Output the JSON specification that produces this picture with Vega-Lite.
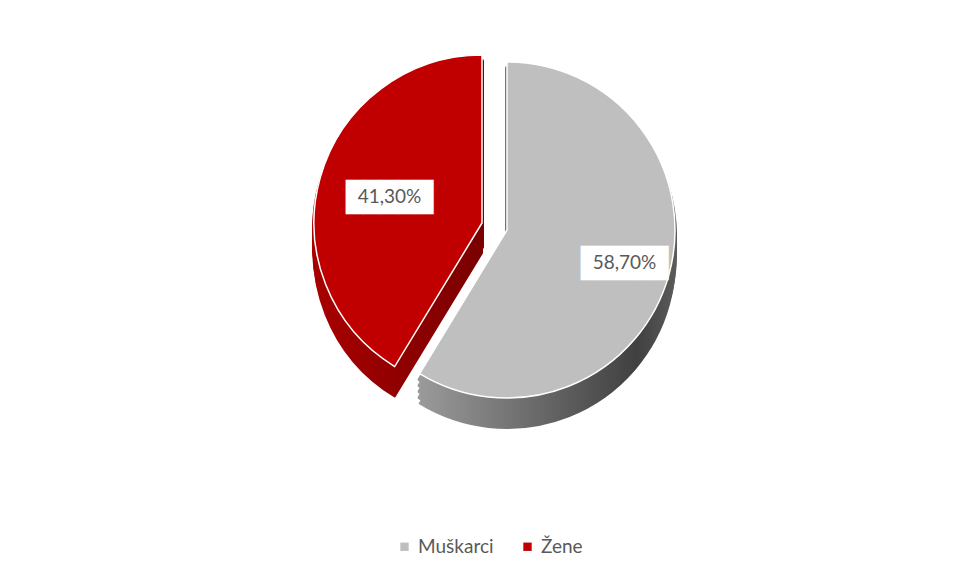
{
  "$schema": "https://vega.github.io/schema/vega-lite/v6.json",
  "width": 1014,
  "height": 460,
  "padding": 0,
  "background": "white",
  "config": {"view": {"stroke": null}, "font": "Lato"},
  "data": {"values": [
    {"spol": "Muškarci", "value": 58.7, "label": "58,70%", "order": 1},
    {"spol": "Žene", "value": 41.3, "label": "41,30%", "order": 2}
  ]},
  "transform": [
    {"stack": "value", "groupby": [], "sort": [{"field": "order", "order": "ascending"}], "as": ["v0", "v1"]}
  ],
  "encoding": {"theta": {"field": "v0", "type": "quantitative", "scale": {"domain": [0, 100]}}, "theta2": {"field": "v1"}},
  "layer": [
    {"transform": [{"filter": "datum.spol === 'Muškarci'"}],
     "mark": {"type": "arc", "radius": 168, "yOffset": 6, "strokeWidth": 4, "strokeJoin": "round", "stroke": {"gradient": "linear", "x1": 0, "x2": 1, "y1": 0, "y2": 0, "stops": [{"offset": 0, "color": "#9a9a9a"}, {"offset": 0.85, "color": "#404040"}, {"offset": 1, "color": "#5a5a5a"}]}, "fill": {"gradient": "linear", "x1": 0, "x2": 1, "y1": 0, "y2": 0, "stops": [{"offset": 0, "color": "#9a9a9a"}, {"offset": 0.85, "color": "#404040"}, {"offset": 1, "color": "#5a5a5a"}]}}},
    {"transform": [{"filter": "datum.spol === 'Muškarci'"}],
     "mark": {"type": "arc", "radius": 168, "yOffset": 12, "strokeWidth": 4, "strokeJoin": "round", "stroke": {"gradient": "linear", "x1": 0, "x2": 1, "y1": 0, "y2": 0, "stops": [{"offset": 0, "color": "#9a9a9a"}, {"offset": 0.85, "color": "#404040"}, {"offset": 1, "color": "#5a5a5a"}]}, "fill": {"gradient": "linear", "x1": 0, "x2": 1, "y1": 0, "y2": 0, "stops": [{"offset": 0, "color": "#9a9a9a"}, {"offset": 0.85, "color": "#404040"}, {"offset": 1, "color": "#5a5a5a"}]}}},
    {"transform": [{"filter": "datum.spol === 'Muškarci'"}],
     "mark": {"type": "arc", "radius": 168, "yOffset": 18, "strokeWidth": 4, "strokeJoin": "round", "stroke": {"gradient": "linear", "x1": 0, "x2": 1, "y1": 0, "y2": 0, "stops": [{"offset": 0, "color": "#9a9a9a"}, {"offset": 0.85, "color": "#404040"}, {"offset": 1, "color": "#5a5a5a"}]}, "fill": {"gradient": "linear", "x1": 0, "x2": 1, "y1": 0, "y2": 0, "stops": [{"offset": 0, "color": "#9a9a9a"}, {"offset": 0.85, "color": "#404040"}, {"offset": 1, "color": "#5a5a5a"}]}}},
    {"transform": [{"filter": "datum.spol === 'Muškarci'"}],
     "mark": {"type": "arc", "radius": 168, "yOffset": 24, "strokeWidth": 4, "strokeJoin": "round", "stroke": {"gradient": "linear", "x1": 0, "x2": 1, "y1": 0, "y2": 0, "stops": [{"offset": 0, "color": "#9a9a9a"}, {"offset": 0.85, "color": "#404040"}, {"offset": 1, "color": "#5a5a5a"}]}, "fill": {"gradient": "linear", "x1": 0, "x2": 1, "y1": 0, "y2": 0, "stops": [{"offset": 0, "color": "#9a9a9a"}, {"offset": 0.85, "color": "#404040"}, {"offset": 1, "color": "#5a5a5a"}]}}},
    {"transform": [{"filter": "datum.spol === 'Muškarci'"}],
     "mark": {"type": "arc", "radius": 168, "yOffset": 30, "strokeWidth": 2, "strokeJoin": "round", "stroke": {"gradient": "linear", "x1": 0, "x2": 1, "y1": 0, "y2": 0, "stops": [{"offset": 0, "color": "#9a9a9a"}, {"offset": 0.85, "color": "#404040"}, {"offset": 1, "color": "#5a5a5a"}]}, "fill": {"gradient": "linear", "x1": 0, "x2": 1, "y1": 0, "y2": 0, "stops": [{"offset": 0, "color": "#9a9a9a"}, {"offset": 0.85, "color": "#404040"}, {"offset": 1, "color": "#5a5a5a"}]}}},
    {"transform": [{"filter": "datum.spol === 'Žene'"}],
     "mark": {"type": "arc", "radius": 168, "xOffset": -25, "yOffset": -1, "strokeWidth": 4, "strokeJoin": "round", "stroke": {"gradient": "linear", "x1": 0, "x2": 1, "y1": 0, "y2": 0, "stops": [{"offset": 0, "color": "#a80000"}, {"offset": 1, "color": "#7a0000"}]}, "fill": {"gradient": "linear", "x1": 0, "x2": 1, "y1": 0, "y2": 0, "stops": [{"offset": 0, "color": "#a80000"}, {"offset": 1, "color": "#7a0000"}]}}},
    {"transform": [{"filter": "datum.spol === 'Žene'"}],
     "mark": {"type": "arc", "radius": 168, "xOffset": -25, "yOffset": 5, "strokeWidth": 4, "strokeJoin": "round", "stroke": {"gradient": "linear", "x1": 0, "x2": 1, "y1": 0, "y2": 0, "stops": [{"offset": 0, "color": "#a80000"}, {"offset": 1, "color": "#7a0000"}]}, "fill": {"gradient": "linear", "x1": 0, "x2": 1, "y1": 0, "y2": 0, "stops": [{"offset": 0, "color": "#a80000"}, {"offset": 1, "color": "#7a0000"}]}}},
    {"transform": [{"filter": "datum.spol === 'Žene'"}],
     "mark": {"type": "arc", "radius": 168, "xOffset": -25, "yOffset": 11, "strokeWidth": 4, "strokeJoin": "round", "stroke": {"gradient": "linear", "x1": 0, "x2": 1, "y1": 0, "y2": 0, "stops": [{"offset": 0, "color": "#a80000"}, {"offset": 1, "color": "#7a0000"}]}, "fill": {"gradient": "linear", "x1": 0, "x2": 1, "y1": 0, "y2": 0, "stops": [{"offset": 0, "color": "#a80000"}, {"offset": 1, "color": "#7a0000"}]}}},
    {"transform": [{"filter": "datum.spol === 'Žene'"}],
     "mark": {"type": "arc", "radius": 168, "xOffset": -25, "yOffset": 17, "strokeWidth": 4, "strokeJoin": "round", "stroke": {"gradient": "linear", "x1": 0, "x2": 1, "y1": 0, "y2": 0, "stops": [{"offset": 0, "color": "#a80000"}, {"offset": 1, "color": "#7a0000"}]}, "fill": {"gradient": "linear", "x1": 0, "x2": 1, "y1": 0, "y2": 0, "stops": [{"offset": 0, "color": "#a80000"}, {"offset": 1, "color": "#7a0000"}]}}},
    {"transform": [{"filter": "datum.spol === 'Žene'"}],
     "mark": {"type": "arc", "radius": 168, "xOffset": -25, "yOffset": 23, "strokeWidth": 2, "strokeJoin": "round", "stroke": {"gradient": "linear", "x1": 0, "x2": 1, "y1": 0, "y2": 0, "stops": [{"offset": 0, "color": "#a80000"}, {"offset": 1, "color": "#7a0000"}]}, "fill": {"gradient": "linear", "x1": 0, "x2": 1, "y1": 0, "y2": 0, "stops": [{"offset": 0, "color": "#a80000"}, {"offset": 1, "color": "#7a0000"}]}}},
    {"transform": [{"filter": "datum.spol === 'Muškarci'"}],
     "mark": {"type": "arc", "radius": 168, "stroke": "white", "strokeWidth": 1.5},
     "encoding": {
       "color": {"field": "spol", "type": "nominal", "scale": {"domain": ["Muškarci", "Žene"], "range": ["#bfbfbf", "#c00000"]},
         "legend": {"title": null, "orient": "none", "legendX": 395, "legendY": 537, "direction": "horizontal", "symbolType": "square", "symbolSize": 70, "labelFontSize": 19, "labelColor": "#595959", "labelFont": "Lato", "columnPadding": 24, "symbolStrokeWidth": 0}}}},
    {"transform": [{"filter": "datum.spol === 'Žene'"}],
     "mark": {"type": "arc", "radius": 168, "xOffset": -25, "yOffset": -7, "stroke": "white", "strokeWidth": 1.5},
     "encoding": {"color": {"field": "spol", "type": "nominal"}}},
    {"mark": {"type": "text", "radius": 122, "fontSize": 29, "color": "white", "font": "DejaVu Sans Mono", "text": "█████", "baseline": "middle", "dy": 1},
     "encoding": {"theta": {"field": "value", "type": "quantitative", "stack": true, "scale": {"domain": [0, 100]}}, "theta2": null, "order": {"field": "order"}}},
    {"mark": {"type": "text", "radius": 122, "fontSize": 19, "color": "#595959", "font": "Lato", "baseline": "middle"},
     "encoding": {"theta": {"field": "value", "type": "quantitative", "stack": true, "scale": {"domain": [0, 100]}}, "theta2": null, "order": {"field": "order"}, "text": {"field": "label"}}}
  ]
}
